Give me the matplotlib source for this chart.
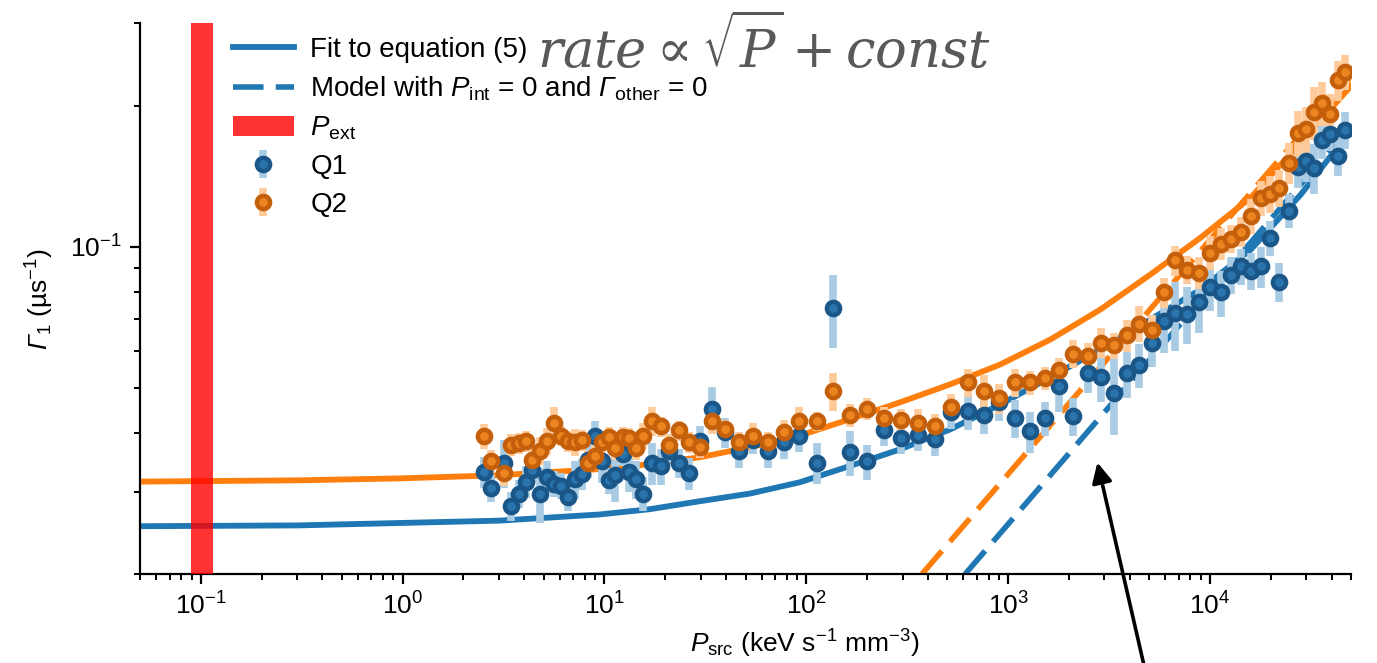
import matplotlib
matplotlib.use("Agg")
import matplotlib.pyplot as plt
from matplotlib.ticker import NullFormatter
from matplotlib.patches import ConnectionPatch

plt.rcParams['font.family'] = ['Liberation Sans', 'DejaVu Sans']
plt.rcParams['mathtext.fontset'] = 'custom'
plt.rcParams['mathtext.rm'] = 'Liberation Sans'
plt.rcParams['mathtext.it'] = 'Liberation Sans:italic'
plt.rcParams['mathtext.bf'] = 'Liberation Sans:bold'
# sans-italic slot, used for the slanted Greek capitals
plt.rcParams['mathtext.sf'] = 'Liberation Sans:italic'

FS = 19

# Source power (keV s^-1 mm^-3), shared by both qubits
p_src = [2.54, 2.75, 3.19, 3.46, 3.79, 4.10, 4.39, 4.81, 5.21, 5.65, 6.12, 6.63, 7.18, 7.78, 8.33,
         9.02, 9.77, 10.5, 11.3, 12.3, 13.3, 14.4, 15.6, 17.1, 19.0, 20.8, 23.3, 26.1, 29.6,
         34.0, 39.4, 46.2, 54.2, 64.4, 77.3, 91.8, 113, 135, 164, 200, 243, 294, 357, 434, 521,
         633, 760, 902, 1083, 1286, 1527, 1791, 2102, 2496, 2897, 3360, 3897, 4469,
         5185, 5946, 6740, 7729, 8865, 9950, 11270, 12640, 14170, 15890, 17820, 19730, 21870,
         24530, 27180, 29780, 32650, 35750, 39190, 42950, 46540]

# Decay rates (us^-1)
q1_rate = [0.0330, 0.0305, 0.0346, 0.0280, 0.0297, 0.0315, 0.0333, 0.0297, 0.0323, 0.0312, 0.0309,
           0.0292, 0.0319, 0.0327, 0.0351, 0.0394, 0.0348, 0.0317, 0.0325, 0.0360, 0.0330, 0.0319,
           0.0297, 0.0345, 0.0340, 0.0366, 0.0345, 0.0328, 0.0384,
           0.0451, 0.0401, 0.0366, 0.0386, 0.0367, 0.0382, 0.0394, 0.0346, 0.0738, 0.0364, 0.0348,
           0.0405, 0.0390, 0.0397, 0.0388, 0.0443,
           0.0445, 0.0438, 0.0465, 0.0430, 0.0403, 0.0430, 0.0503, 0.0434, 0.0536, 0.0526, 0.0486,
           0.0536, 0.0558,
           0.0624, 0.0692, 0.0720, 0.0718, 0.0763, 0.0818, 0.0798, 0.0871, 0.0907, 0.0889, 0.0907,
           0.1045, 0.0842, 0.1193, 0.1481, 0.1526, 0.1474, 0.1691, 0.1741, 0.1563, 0.1776]
q1_err = [0.0025, 0.0020, 0.0040, 0.0020, 0.0020, 0.0025, 0.0020, 0.0040, 0.0025, 0.0020, 0.0020,
          0.0020, 0.0030, 0.0025, 0.0030, 0.0030, 0.0035, 0.0020, 0.0040, 0.0020, 0.0030, 0.0030,
          0.0025, 0.0035, 0.0030, 0.0020, 0.0025, 0.0025, 0.0030,
          0.0050, 0.0030, 0.0030, 0.0025, 0.0030, 0.0030, 0.0030, 0.0035, 0.0130, 0.0040, 0.0030,
          0.0030, 0.0030, 0.0030, 0.0030, 0.0035, 0.0040,
          0.0040, 0.0040, 0.0040, 0.0040, 0.0035, 0.0060, 0.0040, 0.0050, 0.0060, 0.0090, 0.0060,
          0.0060,
          0.0070, 0.0100, 0.0120, 0.0100, 0.0110, 0.0090, 0.0090, 0.0080, 0.0080, 0.0080, 0.0090,
          0.0090, 0.0080, 0.0100, 0.0150, 0.0150, 0.0180, 0.0150, 0.0140, 0.0150, 0.0160]

q2_rate = [0.0394, 0.0348, 0.0328, 0.0378, 0.0380, 0.0384, 0.0351, 0.0367, 0.0384, 0.0420, 0.0395,
           0.0384, 0.0382, 0.0386, 0.0346, 0.0357, 0.0382, 0.0392, 0.0371, 0.0392, 0.0390, 0.0371,
           0.0395, 0.0424, 0.0413, 0.0378, 0.0405, 0.0382, 0.0373,
           0.0424, 0.0407, 0.0382, 0.0395, 0.0382, 0.0401, 0.0424, 0.0424, 0.0491, 0.0436, 0.0451,
           0.0430, 0.0426, 0.0420, 0.0415, 0.0454,
           0.0513, 0.0491, 0.0474, 0.0513, 0.0513, 0.0523, 0.0544, 0.0591, 0.0583, 0.0624, 0.0615,
           0.0646, 0.0685,
           0.0665, 0.0798, 0.0934, 0.0893, 0.0880, 0.0971, 0.1015, 0.1040, 0.1076, 0.1164, 0.1272,
           0.1297, 0.1336, 0.1511, 0.1750, 0.1785, 0.1941, 0.2028, 0.1921, 0.2270, 0.2361]
q2_err = [0.0025, 0.0020, 0.0020, 0.0020, 0.0020, 0.0020, 0.0020, 0.0025, 0.0025, 0.0035, 0.0020,
          0.0020, 0.0025, 0.0020, 0.0020, 0.0020, 0.0020, 0.0020, 0.0020, 0.0020, 0.0020, 0.0020,
          0.0025, 0.0030, 0.0020, 0.0020, 0.0020, 0.0020, 0.0020,
          0.0025, 0.0020, 0.0020, 0.0025, 0.0020, 0.0025, 0.0030, 0.0020, 0.0045, 0.0025, 0.0025,
          0.0025, 0.0025, 0.0030, 0.0025, 0.0030,
          0.0035, 0.0040, 0.0035, 0.0035, 0.0030, 0.0030, 0.0035, 0.0040, 0.0040, 0.0045, 0.0040,
          0.0050, 0.0060,
          0.0050, 0.0060, 0.0070, 0.0060, 0.0070, 0.0080, 0.0080, 0.0070, 0.0080, 0.0100, 0.0110,
          0.0120, 0.0120, 0.0150, 0.0200, 0.0200, 0.0250, 0.0220, 0.0200, 0.0220, 0.0200]

# Fitted curves (eq. 5), sampled along P_src
fit_p = [0.05, 0.306, 0.961, 3.01, 9.45, 16.7, 29.6, 52.5, 92.9, 164, 291, 515, 912, 1615,
         2863, 5070, 8980, 15900, 28130, 50000]
fit_q1 = [0.0253, 0.0254, 0.0257, 0.0260, 0.0268, 0.0275, 0.0286, 0.0297, 0.0314, 0.0340,
          0.0369, 0.0407, 0.0460, 0.0526, 0.0603, 0.0699, 0.0810, 0.0985, 0.1291, 0.1776]
fit_q2 = [0.0315, 0.0317, 0.0320, 0.0325, 0.0335, 0.0343, 0.0355, 0.0373, 0.0395, 0.0428,
          0.0465, 0.0508, 0.0560, 0.0633, 0.0734, 0.0872, 0.1045, 0.1272, 0.1666, 0.2204]

# Model with P_int = 0 and Gamma_other = 0 (straight on log-log)
model_p_q1 = [612, 50000]
model_q1 = [0.0200, 0.1810]
model_p_q2 = [374, 50000]
model_q2 = [0.0200, 0.2310]

# External power band
p_ext_lo, p_ext_hi = 0.089, 0.115

x_ticks = [0.1, 1, 10, 100, 1000, 10000]

blue, orange = '#1f77b4', '#ff7f0e'

fig = plt.figure(figsize=(13.77, 6.63), dpi=100)
ax = fig.add_axes([0.1017, 0.1342, 0.8795, 0.831])

ax.plot(fit_p, fit_q1, color=blue, lw=4.2, zorder=2, solid_joinstyle='round',
        label='Fit to equation (5)')
ax.plot(fit_p, fit_q2, color=orange, lw=4.2, zorder=2, solid_joinstyle='round')
ax.plot(model_p_q1, model_q1, color=blue, lw=4.0, ls=(0, (5.5, 2.2)), zorder=2,
        label=r'Model with $P_\mathrm{int}$ = 0 and $\mathsf{\Gamma}_\mathrm{other}$ = 0')
ax.plot(model_p_q2, model_q2, color=orange, lw=4.0, ls=(0, (5.5, 2.2)), zorder=2)

ax.axvspan(p_ext_lo, p_ext_hi, color='red', alpha=0.8, lw=0, zorder=4,
           label=r'$P_\mathrm{ext}$')

ax.errorbar(p_src, q1_rate, yerr=q1_err, fmt='o', ms=9.5, mfc='#2a74ad', mec='#1a5687',
            mew=3.2, ecolor='#a9cce4', elinewidth=5.5, capsize=0, zorder=3, label='Q1')
ax.errorbar(p_src, q2_rate, yerr=q2_err, fmt='o', ms=9.5, mfc='#ec8420', mec='#c4600c',
            mew=3.2, ecolor='#ffcb9b', elinewidth=5.5, capsize=0, zorder=3, label='Q2')

ax.set_xscale('log')
ax.set_yscale('log')
ax.set_xlim(0.05, 5e4)
ax.set_ylim(0.02, 0.3)
ax.set_xticks(x_ticks)
ax.yaxis.set_minor_formatter(NullFormatter())
ax.xaxis.set_minor_formatter(NullFormatter())

for side in ('top', 'right'):
    ax.spines[side].set_visible(False)
for side in ('left', 'bottom'):
    ax.spines[side].set_linewidth(1.6)
ax.tick_params(which='major', direction='out', length=7, width=1.6, labelsize=FS, pad=6)
ax.tick_params(which='minor', direction='out', length=4.5, width=1.4)

ax.set_xlabel(r'$P_\mathrm{src}$ (keV s$^{-1}$ mm$^{-3}$)', fontsize=FS, labelpad=6, x=0.549)
ax.set_ylabel(r'$\mathsf{\Gamma}_1$ (µs$^{-1}$)', fontsize=FS, labelpad=10)

ax.legend(loc='upper left', bbox_to_anchor=(0.065, 1.0), frameon=False, fontsize=20,
          handlelength=2.2, handletextpad=0.6, labelspacing=0.42, borderaxespad=0.1)

ax.text(0.328, 0.955, r'$rate \propto \sqrt{P} + const$', transform=ax.transAxes,
        fontsize=38, color='#595959', math_fontfamily='dejavuserif', ha='left', va='center')

# pointer from below the axes up to the dashed model lines
arrow = ConnectionPatch(xyA=(0.8315, -0.01), coordsA='figure fraction',
                        xyB=(2767, 0.0346), coordsB='data', axesB=ax,
                        arrowstyle='-|>', color='black', lw=2.6, mutation_scale=30,
                        shrinkA=0, shrinkB=0, clip_on=False)
fig.add_artist(arrow)

fig.savefig('out.png', dpi=100)
